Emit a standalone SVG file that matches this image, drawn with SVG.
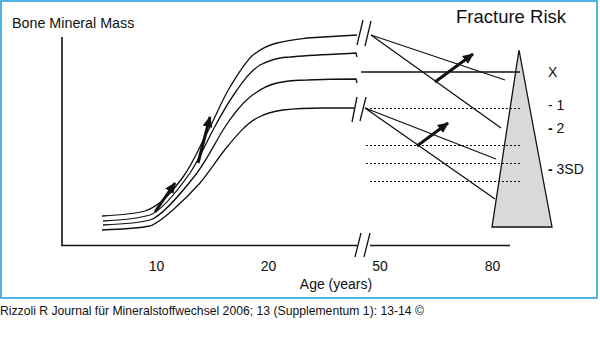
<svg xmlns="http://www.w3.org/2000/svg" width="600" height="361" viewBox="0 0 600 361">
<style>
  text { font-family: "Liberation Sans", Arial, sans-serif; fill: #111; }
  .ln { fill: none; stroke: #111; stroke-width: 1.3; }
  .ax { fill: none; stroke: #111; stroke-width: 1.6; }
  .dot { fill: none; stroke: #111; stroke-width: 1.2; stroke-dasharray: 2 2; }
  .arr { fill: none; stroke: #111; stroke-width: 3; marker-end: url(#head); }
</style>
<defs>
  <marker id="head" markerUnits="userSpaceOnUse" markerWidth="12" markerHeight="10" refX="10" refY="5" orient="auto">
    <path d="M0,0 L11,5 L0,10 z" fill="#111"/>
  </marker>
</defs>
<rect x="1" y="1" width="596" height="297" fill="#fff" stroke="#25a2dc" stroke-width="1.6"/>

<g id="axes">
  <path class="ax" d="M62,37 L62,245.5 L357,245.5"/>
  <path class="ax" d="M370,245.5 L510,245.5"/>
  <path class="ln" d="M355,257 L361,233 M364,257 L370,233"/>
</g>

<g id="labels">
  <text x="12" y="28" font-size="14.3">Bone Mineral Mass</text>
  <text x="456" y="23" font-size="18.5">Fracture Risk</text>
  <text x="156.5" y="271" font-size="14" text-anchor="middle">10</text>
  <text x="268.5" y="271" font-size="14" text-anchor="middle">20</text>
  <text x="380" y="271" font-size="14" text-anchor="middle">50</text>
  <text x="492.5" y="271" font-size="14" text-anchor="middle">80</text>
  <text x="336" y="289" font-size="14" text-anchor="middle">Age (years)</text>
  <text x="548" y="77" font-size="14">X</text>
  <text x="548" y="110" font-size="14">- 1</text>
  <text x="548" y="133" font-size="14"><tspan font-weight="bold">-</tspan> 2</text>
  <text x="548" y="174" font-size="14"><tspan font-weight="bold">-</tspan> 3SD</text>
</g>

<g id="curves">
  <path id="curve1" class="ln" d="M102,216 C120,215 135,214 145,211 C160,206 172,192 183,177 C195,160 200,145 207,133 C215,118 222,100 230,87 C238,74 245,62 253,55 C262,48 268,45 277,43 C290,40 300,39 307,38 L357,35"/>
  <path id="curve2" class="ln" d="M103,221 C125,220 140,218 150,215 C163,210 178,190 190,173 C200,158 206,143 213,130 C221,115 229,101 237,90 C245,78 252,70 260,65 C270,60 280,57 290,57 C310,55 340,54 356,53 L357,57"/>
  <path id="curve3" class="ln" d="M103,225 C125,224 140,223 150,220 C160,217 180,195 197,173 C208,158 215,143 223,130 C232,116 240,105 250,97 C260,89 268,85 277,83 C290,80 300,80 307,80 C330,79 345,79 356,79 L357,83"/>
  <path id="curve4" class="ln" d="M102,230 C125,229 140,228 150,226 C160,223 185,200 200,183 C210,171 218,158 227,147 C237,135 246,124 257,118 C266,113 275,111 283,110 C300,108 315,108 323,108 L354,108"/>
  <path class="ln" d="M357,45 L363,20 M365,46 L371,21"/>
  <path class="ln" d="M352,122 L357,97 M360,121 L366,97"/>
</g>

<g id="triangle">
  <path d="M519,50 L492,227 L552,227 z" fill="#d9d9d9" stroke="#111" stroke-width="1.3"/>
</g>

<g id="connectors">
  <path class="ln" d="M371,35 L505,80 M371,35 L501,128"/>
  <path class="ln" d="M361,72 L520,72"/>
  <path class="ln" d="M365,108 L496,159 M365,108 L495,199"/>
  <path class="dot" d="M366,108.5 L520,108.5"/>
  <path class="dot" d="M366,145.5 L520,145.5"/>
  <path class="dot" d="M366,163.5 L520,163.5"/>
  <path class="dot" d="M370,181.5 L520,181.5"/>
  <path class="arr" d="M155,212 L175,183"/>
  <path class="arr" d="M198,163 L210,117"/>
  <path class="arr" d="M435,82 L473,54"/>
  <path class="arr" d="M417,146 L448,123"/>
</g>

<text x="0" y="315" font-size="12.2">Rizzoli R Journal für Mineralstoffwechsel 2006; 13 (Supplementum 1): 13-14 ©</text>
</svg>
